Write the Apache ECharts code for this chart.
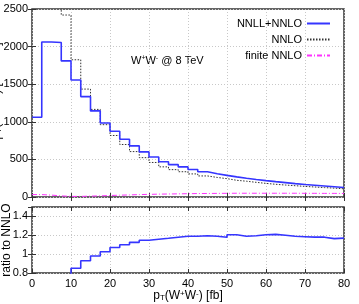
<!DOCTYPE html>
<html><head><meta charset="utf-8">
<script src="https://cdn.jsdelivr.net/npm/echarts@6/dist/echarts.min.js"></script>
<style>html,body{margin:0;padding:0;background:#fff}#c{width:359px;height:304px}</style>
</head><body><div id="c"></div>
<script>
const binEdges = [0,2.5,5,7.5,10,12.5,15,17.5,20,22.5,25,27.5,30,32.5,35,37.5,40,42.5,45,47.5,50,52.5,55,57.5,60,62.5,65,67.5,70,72.5,75,77.5,80];
const nnllNnlo = [1060,2062,2055,1810,1555,1335,1145,985,875,768,680,600,532,468,430,400,365,335,310,288,268,250,233,218,204,191,178,167,157,147,137,127];
const nnlo = [8000,6000,3500,2420,1825,1435,1165,962,818,698,604,523,459,401,364,336,307,280,260,244,222,210,195,181,169,159,150,141,133,125,118,109];
const finiteNnlo = [32,25,15,8,8,12,15,20,24,28,32,35,38,40,42,44,46,47,48,49,50,50,50,50,50,50,50,49,49,48,48,47];
const ratio = [0.13,0.34,0.59,0.75,0.85,0.93,0.98,1.025,1.07,1.10,1.125,1.147,1.158,1.168,1.18,1.19,1.19,1.195,1.19,1.18,1.205,1.19,1.195,1.205,1.21,1.20,1.19,1.185,1.18,1.18,1.165,1.17];
const xTicks = [0,10,20,30,40,50,60,70,80];

function stepData(vals){ return binEdges.map((x,i)=>[x, vals[Math.min(i, vals.length-1)]]); }

const FONT = 'Liberation Sans';
const tickStyle = {show:true, inside:true, length:4, lineStyle:{color:'#333', width:1}};
const gridLine = {show:true, lineStyle:{color:'#c8c8c8', type:[1,2], width:1}};
const supRich = {
  n:{fontSize:12, fontFamily:FONT, color:'#000'},
  sub:{fontSize:8, fontFamily:FONT, color:'#000', verticalAlign:'bottom'},
  sup:{fontSize:8, fontFamily:FONT, color:'#000', verticalAlign:'top'}
};
const gRich = {
  n:{fontSize:12, fontFamily:FONT, fill:'#000'},
  sub:{fontSize:8, fontFamily:FONT, fill:'#000', verticalAlign:'bottom'},
  sup:{fontSize:8, fontFamily:FONT, fill:'#000', verticalAlign:'top'}
};

const chart = echarts.init(document.getElementById('c'), null, {renderer:'canvas'});
chart.setOption({
  animation:false,
  backgroundColor:'#fff',
  textStyle:{fontFamily:FONT},
  grid:[
    {left:32, right:15, top:9, height:188, show:true, borderColor:'#333', borderWidth:1.5, backgroundColor:'transparent', outerBoundsMode:'none'},
    {left:32, right:15, top:207, height:66, show:true, borderColor:'#333', borderWidth:1.5, backgroundColor:'transparent', outerBoundsMode:'none'}
  ],
  legend:{
    orient:'vertical', right:23, top:13, align:'right', itemWidth:23, itemHeight:10, itemGap:5,
    itemStyle:{opacity:0},
    textStyle:{fontSize:11, fontFamily:FONT, color:'#000'},
    data:['NNLL+NNLO','NNLO','finite NNLO']
  },
  graphic:[{
    type:'text', left:131, top:55,
    style:{
      text:'{n|W}{sup|+}{n|W}{sup|-}{n| @ 8 TeV}',
      rich:{
        n:{fontSize:11, fontFamily:FONT, fill:'#000'},
        sup:{fontSize:7, fontFamily:FONT, fill:'#000', verticalAlign:'top'}
      }
    }
  },{
    type:'text', x:-3, y:103, rotation:Math.PI/2,
    style:{
      text:'{n|dσ/dp}{sub|T}{n|(W}{sup|+}{n|W}{sup|-}{n|) [fb/GeV]}',
      align:'center', verticalAlign:'middle', rich:gRich
    }
  },{
    type:'text', x:7, y:240, rotation:Math.PI/2,
    style:{
      text:'ratio to NNLO', font:'12px "Liberation Sans"', fill:'#000',
      align:'center', verticalAlign:'middle'
    }
  }],
  xAxis:[
    {gridIndex:0, type:'value', min:0, max:80, interval:10, axisLine:{show:false}, axisTick:tickStyle, axisLabel:{show:false}, splitLine:gridLine},
    {gridIndex:1, type:'value', min:0, max:80, interval:10, axisLine:{show:false}, axisTick:tickStyle,
      axisLabel:{fontSize:11, color:'#000', margin:5, fontFamily:FONT},
      splitLine:gridLine,
      name:'{n|p}{sub|T}{n|(W}{sup|+}{n|W}{sup|-}{n|) [fb]}', nameLocation:'middle', nameGap:14,
      nameTextStyle:{rich:supRich}},
    {gridIndex:0, type:'value', position:'top', min:0, max:80, interval:10, axisLine:{show:false}, axisTick:tickStyle, axisLabel:{show:false}, splitLine:{show:false}},
    {gridIndex:1, type:'value', position:'top', min:0, max:80, interval:10, axisLine:{show:false}, axisTick:tickStyle, axisLabel:{show:false}, splitLine:{show:false}}
  ],
  yAxis:[
    {gridIndex:0, type:'value', min:0, max:2500, interval:500, axisLine:{show:false}, axisTick:tickStyle,
      axisLabel:{fontSize:11, color:'#000', margin:4, fontFamily:FONT, formatter:v=>String(v)}, splitLine:gridLine},
    {gridIndex:1, type:'value', min:0.8, max:1.5, interval:0.2, axisLine:{show:false}, axisTick:tickStyle,
      axisLabel:{fontSize:11, color:'#000', margin:4, fontFamily:FONT, showMaxLabel:false}, splitLine:gridLine},
    {gridIndex:0, type:'value', position:'right', min:0, max:2500, interval:500, axisLine:{show:false}, axisTick:tickStyle, axisLabel:{show:false}, splitLine:{show:false}},
    {gridIndex:1, type:'value', position:'right', min:0.8, max:1.5, interval:0.2, axisLine:{show:false}, axisTick:tickStyle, axisLabel:{show:false, showMaxLabel:false}, splitLine:{show:false}}
  ],
  series:[
    {name:'NNLL+NNLO', type:'line', step:'end', xAxisIndex:0, yAxisIndex:0, data:stepData(nnllNnlo), symbol:'none', clip:true,
      lineStyle:{color:'#3535ff', width:1.6}, itemStyle:{color:'#3535ff'}, z:4},
    {name:'NNLO', type:'line', step:'end', xAxisIndex:0, yAxisIndex:0, data:stepData(nnlo), symbol:'none', clip:true,
      lineStyle:{color:'#333', width:1, type:[1.5,1.5]}, itemStyle:{color:'#333'}, z:3},
    {name:'finite NNLO', type:'line', step:'end', xAxisIndex:0, yAxisIndex:0, data:stepData(finiteNnlo), symbol:'none', clip:true,
      lineStyle:{color:'#ff33ff', width:1, type:[5,2,1,2]}, itemStyle:{color:'#ff33ff'}, z:3},
    {name:'ratio', type:'line', step:'end', xAxisIndex:1, yAxisIndex:1, data:stepData(ratio), symbol:'none', clip:true,
      lineStyle:{color:'#3535ff', width:1.6}, itemStyle:{color:'#3535ff'}, z:4}
  ]
});
</script></body></html>
